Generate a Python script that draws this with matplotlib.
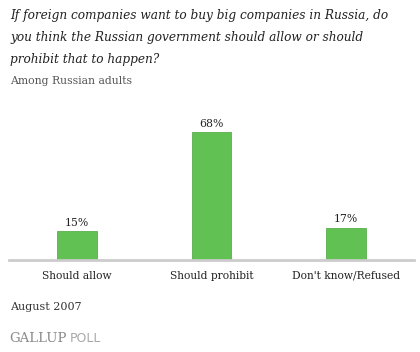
import matplotlib.pyplot as plt

# survey answers and shares (percent)
categories = ["Should allow", "Should prohibit", "Don't know/Refused"]
values = [15, 68, 17]
value_labels = ["15%", "68%", "17%"]

title_lines = [
    "If foreign companies want to buy big companies in Russia, do",
    "you think the Russian government should allow or should",
    "prohibit that to happen?",
]
subtitle = "Among Russian adults"
date_note = "August 2007"

W, H = 420, 352
fig = plt.figure(figsize=(W / 100, H / 100), dpi=100)


def fy(px):
    # pixel row from the top -> figure fraction
    return 1 - px / H


# axes placed in pixel terms: baseline at y=259.5, line from x=9 to 414
ax_left, ax_right = 9, 414
ax_bottom = H - 259.5
ax_height = 1.87 * 80
ax = fig.add_axes([ax_left / W, ax_bottom / H, (ax_right - ax_left) / W, ax_height / H])

x = list(range(len(categories)))
ax.bar(x, values, width=0.297, color="#62c153", edgecolor="#5aae4c", linewidth=0.6, zorder=2)
ax.set_xlim(-0.505, 2.505)
ax.set_ylim(0, 80)
ax.axhline(0, color="#cccccc", linewidth=2, zorder=3, clip_on=False)

for xi, v, lab in zip(x, values, value_labels):
    ax.text(xi, v + 3.0, lab, ha="center", va="baseline", fontsize=7.8,
            family="DejaVu Serif", color="#222222")

ax.set_xticks([])
ax.set_yticks([])
for s in ax.spines.values():
    s.set_visible(False)

# category labels under the baseline
for xi, cat in zip(x, categories):
    px = ax_left + (xi + 0.505) / 3.01 * (ax_right - ax_left)
    fig.text(px / W, fy(279), cat, ha="center", va="baseline", fontsize=7.7,
             family="DejaVu Serif", color="#222222")

for yy, line in zip([19.5, 41, 62.5], title_lines):
    fig.text(10 / W, fy(yy), line, ha="left", va="baseline", fontsize=8.75,
             family="DejaVu Serif", style="italic", color="#222222")

fig.text(10 / W, fy(84), subtitle, ha="left", va="baseline", fontsize=7.8,
         family="DejaVu Serif", color="#555555")
fig.text(10 / W, fy(309.5), date_note, ha="left", va="baseline", fontsize=8.0,
         family="DejaVu Serif", color="#333333")
fig.text(9 / W, fy(342), "GALLUP", ha="left", va="baseline", fontsize=9.6,
         family="DejaVu Serif", color="#8a8a8a")
fig.text(70 / W, fy(342), "POLL", ha="left", va="baseline", fontsize=9.0,
         family="DejaVu Sans", color="#a8a8a8")

fig.savefig("out.png", dpi=100)
